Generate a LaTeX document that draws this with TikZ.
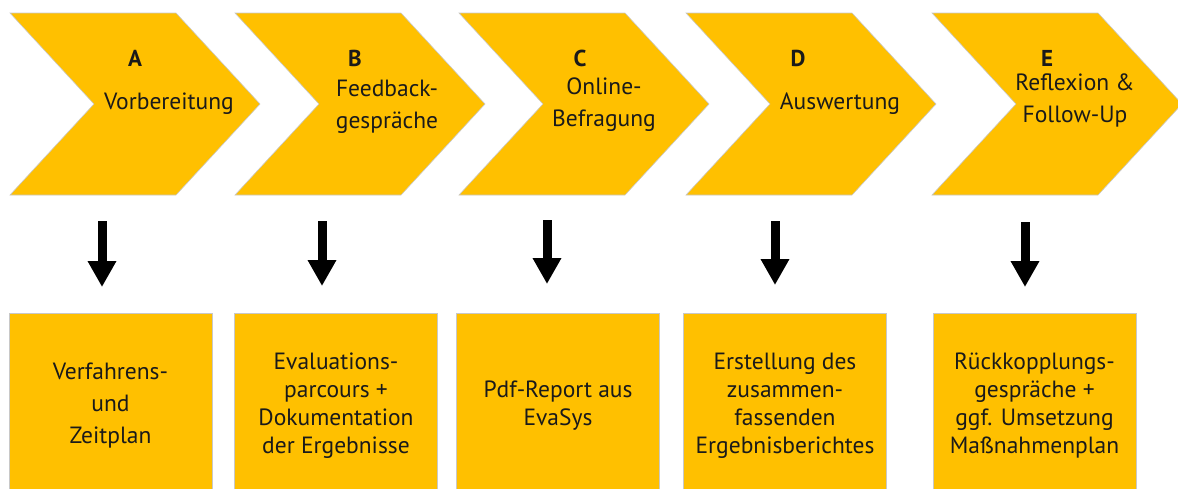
\documentclass[tikz,border=0pt]{standalone}
\usepackage{fontspec}
\setmainfont{PT Sans}
\usetikzlibrary{shapes.symbols, arrows.meta}
\definecolor{Gold}{HTML}{FFC000}
\definecolor{EdgeGray}{HTML}{C8C8C8}
\definecolor{InkBlack}{HTML}{1A1A1A}
\tikzstyle{chev} = [signal, signal to=east, signal from=west, signal pointer angle=94.6, minimum width=250pt, minimum height=182pt, inner sep=0pt, fill=Gold, draw=EdgeGray, line width=0.6pt]
\tikzstyle{phase} = [font=\bfseries\fontsize{23}{23}\selectfont, text=InkBlack]
\tikzstyle{phasetext} = [align=center, text=InkBlack, font=\fontsize{23.5}{32}\selectfont]
\tikzstyle{outbox} = [rectangle, fill=Gold, draw=EdgeGray, line width=0.6pt, minimum width=203pt, minimum height=185pt, align=center, text=InkBlack, font=\fontsize{23.5}{28}\selectfont]
\tikzstyle{downarrow} = [line width=9pt, -{Triangle[width=27pt,length=26pt]}]

\begin{document}
\begin{tikzpicture}[x=1pt, y=-1pt]
  \useasboundingbox (0,0) rectangle (1178,488);

  % phases
  \node (chevA) [chev] at (135,104) {};
  \node (chevB) [chev] at (360,104) {};
  \node (chevC) [chev] at (584,104) {};
  \node (chevD) [chev] at (811,104) {};
  \node (chevE) [chev] at (1057,104) {};

  \node (letA) [phase] at (135,58) {A};
  \node (letB) [phase] at (355,58) {B};
  \node (letC) [phase] at (580,58) {C};
  \node (letD) [phase] at (798,58) {D};
  \node (letE) [phase] at (1047,58) {E};

  \node (txtA) [phasetext] at (169,104) {Vorbereitung};
  \node (txtB) [phasetext] at (387,107) {Feedback-\\gespräche};
  \node (txtC) [phasetext] at (604,105) {Online-\\Befragung};
  \node (txtD) [phasetext] at (840,104) {Auswertung};
  \node (txtE) [phasetext] at (1075,100) {Reflexion \&\\Follow-Up};

  % results (boxes run past the lower edge)
  \node (boxA) [outbox, font=\fontsize{23.5}{32}\selectfont] at (110.5,405.5) {Verfahrens-\\und\\Zeitplan};
  \node (boxB) [outbox] at (336,405.5) {Evaluations-\\parcours +\\Dokumentation\\der Ergebnisse};
  \node (boxC) [outbox] at (558,405.5) {Pdf-Report aus\\EvaSys};
  \node (boxD) [outbox] at (785,405.5) {Erstellung des\\zusammen-\\fassenden\\Ergebnisberichtes};
  \node (boxE) [outbox] at (1034.5,405.5) {Rückkopplungs-\\gespräche +\\ggf. Umsetzung\\Maßnahmenplan};

  \coordinate (fromA) at (102,221);  \coordinate (toA) at (102,287);
  \coordinate (fromB) at (322,221);  \coordinate (toB) at (322,286);
  \coordinate (fromC) at (547,220);  \coordinate (toC) at (547,284);
  \coordinate (fromD) at (775,221);  \coordinate (toD) at (775,285);
  \coordinate (fromE) at (1025,222); \coordinate (toE) at (1025,287);

  \draw [downarrow] (fromA) -- (toA);
  \draw [downarrow] (fromB) -- (toB);
  \draw [downarrow] (fromC) -- (toC);
  \draw [downarrow] (fromD) -- (toD);
  \draw [downarrow] (fromE) -- (toE);

\end{tikzpicture}
\end{document}
